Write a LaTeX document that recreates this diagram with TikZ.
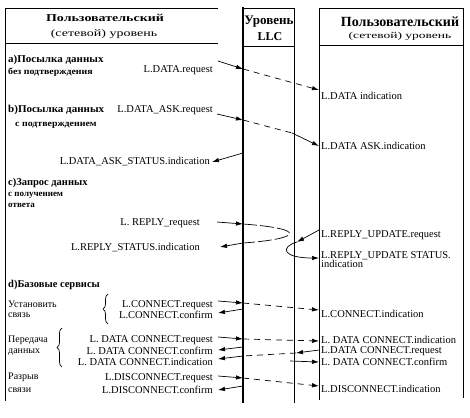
\documentclass[tikz,border=0pt]{standalone}
\usepackage{fontspec}
\setmainfont{Liberation Serif}
\usetikzlibrary{arrows.meta,decorations.pathreplacing}
\newcommand\fsz[1]{\fontsize{#1}{#1}\selectfont}
\newcommand\hst[2]{\scalebox{#1}[1]{#2}}
\begin{document}
\begin{tikzpicture}[x=1pt,y=-1pt,
  lab/.style={inner sep=0pt, font=\fsz{10.5}},
  labL/.style={lab, anchor=east},
  labR/.style={lab, anchor=west},
  sec/.style={inner sep=0pt, anchor=west, font=\bfseries\fsz{10.5}},
  subsec/.style={inner sep=0pt, anchor=west, font=\bfseries\fsz{9}},
  grp/.style={inner sep=0pt, anchor=west, font=\fsz{10}},
  hdr/.style={inner sep=0pt},
  ln/.style={line width=0.8pt},
  thk/.style={line width=2.2pt},
  tip/.style={-{Latex[length=7pt,width=4.5pt]}, line width=0.7pt},
  dsh/.style={dash pattern=on 6pt off 5pt},
  lsh/.style={dash pattern=on 14pt off 3pt},
  brc/.style={decorate, decoration={brace, amplitude=5pt}, line width=0.7pt}
]
\useasboundingbox (0,0) rectangle (470,417);
% frames
\draw[ln] (218,8) -- (5,8) -- (5,401);
\draw[ln] (5,43) -- (218,43);
\draw[thk] (243,7) -- (243,403);
\draw[ln] (243,8) -- (294,8) -- (294,403);
\draw[ln] (243,46) -- (294,46);
\draw[ln] (319,400) -- (319,8) -- (463,8) -- (463,398);
\draw[ln] (319,45) -- (463,45);
% headers
\node[hdr, font=\bfseries\fsz{10.5}] (hl1) at (105,18) {\hst{1.33}{Пользовательский}};
\node[hdr, font=\fsz{10}] (hl2) at (104,34) {\hst{1.4}{(сетевой) уровень}};
\node[hdr, font=\bfseries\fsz{13}] (llc1) at (269,22) {Уровень};
\node[hdr, font=\bfseries\fsz{12}] (llc2) at (270,37) {LLC};
\node[hdr, font=\bfseries\fsz{14}] (hr1) at (400,22) {Пользовательский};
\node[hdr, font=\fsz{9}] (hr2) at (400,36) {\hst{1.5}{(сетевой) уровень}};
% section a
\node[sec] (sa1) at (8,60) {\hst{1.05}{а)Посылка данных}};
\node[subsec] (sa2) at (8,72) {\hst{1.1}{без подтверждения}};
\node[labL] (reqA) at (213,70) {L.DATA.request};
\node[labR] (indA) at (321,96) {L.DATA indication};
\coordinate (a0) at (218,61);
\coordinate (a1) at (243,69);
\coordinate (a2) at (319,90);
\draw[tip] (a0) -- (a1);
\draw[tip, dsh] (a1) -- (a2);
% section b
\node[sec] (sb1) at (8,110) {\hst{1.05}{b)Посылка данных}};
\node[subsec] (sb2) at (15,125) {\hst{1.1}{с подтверждением}};
\node[labL] (reqB) at (213,110) {L.DATA\_ASK.request};
\node[labL] (stB) at (210,162) {L.DATA\_ASK\_STATUS.indication};
\node[labR] (indB) at (321,146) {L.DATA ASK.indication};
\coordinate (b0) at (217,114);
\coordinate (b1) at (243,120);
\coordinate (b2) at (292,133);
\coordinate (b3) at (319,146);
\coordinate (b4) at (243,153);
\coordinate (b5) at (212,162);
\draw[tip] (b0) -- (b1);
\draw[line width=0.7pt, dsh] (b1) -- (b2);
\draw[tip] (b2) -- (b3);
\draw[tip] (b4) -- (b5);
% section c
\node[sec] (sc1) at (8,183) {с)Запрос данных};
\node[subsec] (sc2) at (8,195) {с получением};
\node[subsec] (sc3) at (8,205) {ответа};
\node[labL] (reqC) at (200,223) {L. REPLY\_request};
\node[labL] (stC) at (200,248) {L.REPLY\_STATUS.indication};
\node[labR] (updC) at (321,235) {L.REPLY\_UPDATE.request};
\node[labR, align=left, anchor=north west] (ustC) at (321,251) {L.REPLY\_UPDATE STATUS.\\[-1pt]indication};
\coordinate (c0) at (217,222);
\coordinate (c1) at (243,224);
\coordinate (c2) at (243,243);
\coordinate (c3) at (220,247);
\coordinate (c4) at (319,230);
\coordinate (c5) at (297,242);
\coordinate (c6) at (319,258);
\draw[tip] (c0) -- (c1);
\draw[line width=0.7pt, lsh] (c1) .. controls (310,229) and (300,239) .. (c2);
\draw[tip] (c2) -- (c3);
\draw[tip] (c4) -- (c5);
\draw[tip] (c5) .. controls (280,247) and (282,258) .. (c6);
% section d
\node[sec] (sd1) at (8,285) {d)Базовые сервисы};
\node[grp] (g1a) at (8,304) {Установить};
\node[grp] (g1b) at (8,315) {связь};
\node[grp] (g2a) at (8,340) {Передача};
\node[grp] (g2b) at (8,352) {данных};
\node[grp] (g3a) at (8,377) {Разрыв};
\node[grp] (g3b) at (8,390) {связи};
\draw[brc] (108,324) -- (108,294);
\draw[brc] (62,367) -- (62,328);
\node[labL] (creq) at (213,305) {L.CONNECT.request};
\node[labL] (ccnf) at (213,315) {L.CONNECT.confirm};
\node[labR] (cind) at (321,314) {L.CONNECT.indication};
\node[labL] (dreq) at (213,340) {L. DATA  CONNECT.request};
\node[labL] (dcnf) at (213,351) {L. DATA  CONNECT.confirm};
\node[labL] (dind) at (213,362) {L. DATA  CONNECT.indication};
\node[labR] (rind) at (321,340) {L. DATA CONNECT.indication};
\node[labR] (rreq) at (321,351) {L.DATA CONNECT.request};
\node[labR] (rcnf) at (321,362) {L. DATA CONNECT.confirm};
\node[labL] (xreq) at (213,378) {L.DISCONNECT.request};
\node[labL] (xcnf) at (213,390) {L.DISCONNECT.confirm};
\node[labR] (xind) at (321,389) {L.DISCONNECT.indication};
% connect
\coordinate (d0) at (218,301);
\coordinate (d1) at (243,303);
\coordinate (d2) at (319,310);
\coordinate (d3) at (243,309);
\coordinate (d4) at (218,313);
\draw[tip] (d0) -- (d1);
\draw[tip, dsh] (d1) -- (d2);
\draw[tip] (d3) -- (d4);
% data
\coordinate (e0) at (218,337);
\coordinate (e1) at (243,339);
\coordinate (e2) at (319,341);
\coordinate (e3) at (319,350);
\coordinate (e4) at (296,353);
\coordinate (e5) at (243,356);
\coordinate (e6) at (218,359);
\coordinate (e7) at (243,347);
\coordinate (e8) at (218,350);
\coordinate (e9) at (290,361);
\coordinate (e10) at (319,362);
\draw[tip] (e0) -- (e1);
\draw[tip, dsh] (e1) -- (e2);
\draw[tip] (e3) -- (e4);
\draw[line width=0.7pt, dsh] (e4) -- (e5);
\draw[tip] (e5) -- (e6);
\draw[tip] (e7) -- (e8);
\draw[tip] (e9) -- (e10);
% disconnect
\coordinate (f0) at (218,376);
\coordinate (f1) at (243,378);
\coordinate (f2) at (319,386);
\coordinate (f3) at (243,386);
\coordinate (f4) at (218,390);
\draw[tip] (f0) -- (f1);
\draw[tip, dsh] (f1) -- (f2);
\draw[tip] (f3) -- (f4);
\end{tikzpicture}
\end{document}
